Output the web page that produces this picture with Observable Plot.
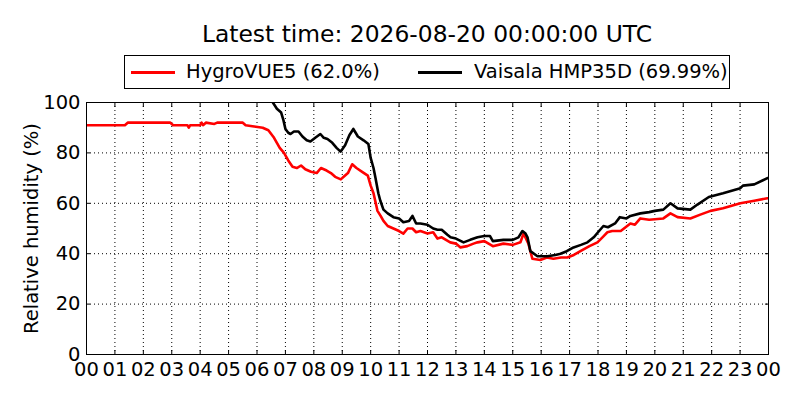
<!DOCTYPE html>
<html>
<head>
<meta charset="utf-8">
<script src="https://cdn.jsdelivr.net/npm/d3@7"></script>
<script src="https://cdn.jsdelivr.net/npm/@observablehq/plot@0.6"></script>
<style>
  body { margin: 0; background: #fff; }
  #wrap { position: relative; width: 800px; height: 400px; font-family: "DejaVu Sans", sans-serif; color: #000; }
  #title { position: absolute; left: 86px; width: 682px; top: 20px; text-align: center; font-size: 23.4px; line-height: 28px; }
  #legend { position: absolute; left: 124px; top: 55px; width: 604px; height: 32px; border: 1px solid #000; background: #fff; font-size: 19.5px; }
  .sw { position: absolute; top: 15px; width: 44px; height: 3px; }
  .lt { position: absolute; top: 4px; line-height: 24px; white-space: nowrap; }
  #chart { position: absolute; left: 0; top: 0; }
  #chart svg text { font-size: 19.5px; }
</style>
</head>
<body>
<div id="wrap">
  <div id="chart"></div>
  <div id="title"></div>
  <div id="legend"></div>
</div>
<script>
const titleText = "Latest time: 2026-08-20 00:00:00 UTC";
const yLabel = "Relative humidity (%)";
const seriesNames = ["HygroVUE5 (62.0%)", "Vaisala HMP35D (69.99%)"];
const seriesColors = ["#ff0000", "#000000"];
const xTicks = d3.range(0, 25);
const yTicks = [0, 20, 40, 60, 80, 100];

// HygroVUE5 (hours, %RH)
const hygroHours = [0, 1.35, 1.45, 2.95, 3.05, 3.55, 3.6, 3.65, 4.0, 4.05, 4.1, 4.2, 4.5, 4.6, 5.5, 5.6, 5.9, 6.2, 6.4, 6.6, 6.8, 6.95, 7.1, 7.25, 7.4, 7.55, 7.7, 7.9, 8.1, 8.25, 8.45, 8.6, 8.75, 8.95, 9.05, 9.2, 9.35, 9.5, 9.7, 9.9, 10.0, 10.1, 10.24, 10.35, 10.45, 10.6, 10.8, 11.0, 11.15, 11.3, 11.47, 11.6, 11.75, 12.0, 12.2, 12.35, 12.5, 12.8, 13.0, 13.16, 13.4, 13.62, 13.76, 14.0, 14.3, 14.67, 15.0, 15.27, 15.38, 15.55, 15.69, 15.97, 16.2, 16.43, 16.7, 16.92, 17.15, 17.38, 17.7, 17.98, 18.2, 18.33, 18.5, 18.8, 19.14, 19.3, 19.49, 19.8, 20.3, 20.55, 20.8, 21.25, 21.6, 21.96, 22.4, 23.01, 23.5, 23.96, 24.0];
const hygroValues = [91, 91, 92, 92, 91, 91, 90, 91, 91, 92, 91, 92, 91.5, 92, 92, 91, 90.5, 90, 89, 86, 82, 80, 77, 74.5, 74, 75, 73.5, 72.5, 72, 74, 73, 72, 70.5, 69.5, 70.5, 72, 75.5, 74, 72.5, 71, 67, 64, 57, 55, 53, 51, 50, 49, 48, 50, 50, 48.5, 49, 48, 48.5, 46, 46.5, 44.5, 44, 42.5, 43, 44, 44.5, 45, 43, 44, 43.5, 44.5, 48, 44, 38, 37.5, 38.5, 38, 38.5, 38.5, 39.5, 41, 43, 44.5, 47, 48.5, 49, 49, 52, 51.5, 54, 53.5, 54, 56, 54.5, 54, 55.5, 57, 58, 60, 61, 62, 62];

// Vaisala HMP35D (hours, %RH)
const vaisalaHours = [6.5, 6.7, 6.85, 6.93, 7.0, 7.1, 7.18, 7.3, 7.46, 7.6, 7.75, 7.88, 8.05, 8.23, 8.35, 8.48, 8.65, 8.8, 8.94, 9.1, 9.25, 9.39, 9.55, 9.75, 9.92, 10.0, 10.1, 10.17, 10.27, 10.34, 10.45, 10.6, 10.8, 11.0, 11.15, 11.35, 11.47, 11.6, 11.75, 12.0, 12.2, 12.35, 12.5, 12.7, 12.81, 13.0, 13.27, 13.5, 13.76, 14.0, 14.2, 14.3, 14.67, 15.0, 15.2, 15.34, 15.45, 15.52, 15.62, 15.87, 16.22, 16.5, 16.68, 16.9, 17.14, 17.4, 17.63, 17.85, 18.0, 18.19, 18.35, 18.6, 18.77, 19.0, 19.14, 19.49, 19.8, 20.0, 20.3, 20.55, 20.8, 21.25, 21.5, 21.9, 22.4, 23.01, 23.1, 23.5, 23.96, 24.0];
const vaisalaValues = [101, 97.5, 96, 93, 89.5, 88, 87.5, 88.5, 88.5, 86.5, 85, 84.5, 86, 87.5, 86, 85.5, 84, 82, 80.5, 83, 87, 89.5, 86.5, 85, 83.5, 78, 74, 70, 64, 61, 57.5, 56, 54.5, 54, 52.5, 53, 55, 52, 52, 51.5, 50, 49.5, 49.5, 47.5, 46.5, 46, 44.5, 45.5, 46.5, 47, 47, 45, 45.5, 45.5, 46.5, 49, 48, 46.5, 41, 39, 39, 39.5, 40, 41, 42.5, 43.5, 44.5, 46.5, 48.5, 51, 50.5, 52, 54.5, 54, 55, 56, 56.5, 57, 57.5, 60, 58, 57.5, 59.5, 62.5, 64, 66, 67, 67.5, 70, 70];

const hygro = hygroHours.map((h, i) => ({h, v: hygroValues[i]}));
const vaisala = vaisalaHours.map((h, i) => ({h, v: vaisalaValues[i]}));
const fmtHour = (h) => d3.format("02d")(h % 24);
const blank = () => "";

const plot = Plot.plot({
  width: 800,
  height: 400,
  marginLeft: 86,
  marginRight: 32,
  marginTop: 102,
  marginBottom: 46,
  style: {fontFamily: "DejaVu Sans, sans-serif", fontSize: "19.5px", color: "#000", background: "transparent"},
  x: {domain: [0, 24]},
  y: {domain: [0, 100]},
  marks: [
    Plot.gridX(xTicks, {stroke: "#000", strokeOpacity: 1, strokeWidth: 1, strokeDasharray: "1,3"}),
    Plot.gridY(yTicks, {stroke: "#000", strokeOpacity: 1, strokeWidth: 1, strokeDasharray: "1,3"}),
    Plot.axisX(xTicks, {anchor: "bottom", tickSize: -4, tickFormat: blank, label: null, strokeOpacity: 1}),
    Plot.axisX(xTicks, {anchor: "top", tickSize: -4, tickFormat: blank, label: null, strokeOpacity: 1}),
    Plot.axisY(yTicks, {anchor: "left", tickSize: -4, tickFormat: blank, label: null, strokeOpacity: 1}),
    Plot.axisY(yTicks, {anchor: "right", tickSize: -4, tickFormat: blank, label: null, strokeOpacity: 1}),
    Plot.axisX(xTicks, {anchor: "bottom", tickSize: 0, tickPadding: 8, tickFormat: fmtHour, label: null, fontSize: 19.5}),
    Plot.axisY(yTicks, {anchor: "left", tickSize: 0, tickPadding: 6, label: yLabel, labelAnchor: "center", labelArrow: "none", labelOffset: 62, fontSize: 19.5}),
    Plot.line(hygro, {x: "h", y: "v", stroke: seriesColors[0], strokeWidth: 2.6, clip: true}),
    Plot.line(vaisala, {x: "h", y: "v", stroke: seriesColors[1], strokeWidth: 2.6, clip: true}),
    Plot.frame({stroke: "#000", strokeWidth: 1})
  ]
});
document.getElementById("chart").appendChild(plot);
document.getElementById("title").textContent = titleText;

const leg = document.getElementById("legend");
const swX = [6, 293];
const txX = [61, 349];
seriesNames.forEach((n, i) => {
  const s = document.createElement("div");
  s.className = "sw"; s.style.left = swX[i] + "px"; s.style.background = seriesColors[i];
  leg.appendChild(s);
  const t = document.createElement("div");
  t.className = "lt"; t.style.left = txX[i] + "px"; t.textContent = n;
  leg.appendChild(t);
});
</script>
</body>
</html>
